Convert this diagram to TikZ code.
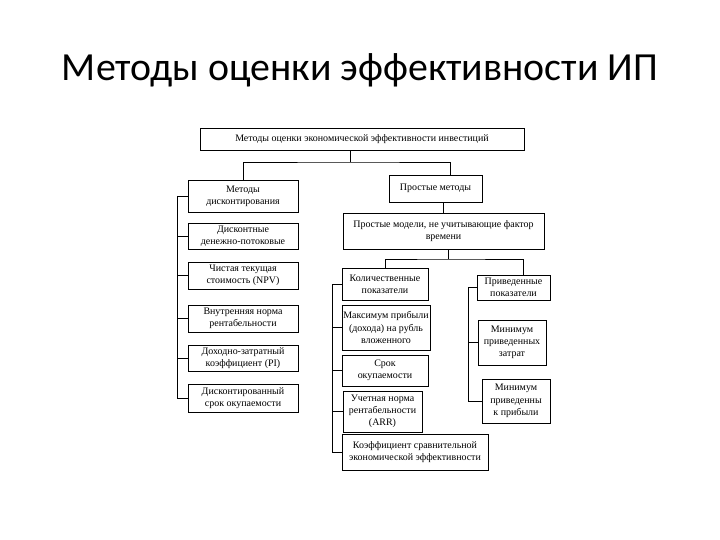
\documentclass[tikz,border=0pt]{standalone}
\usepackage{fontspec}
\setmainfont{Liberation Serif}
\newfontfamily\titlefont{Carlito}
\usepackage{tikz}
\usetikzlibrary{calc, positioning}

\begin{document}
\begin{tikzpicture}[x=1bp, y=-1bp,
    box/.style={draw, line width=0.6bp, align=center, inner sep=1bp,
        font=\fontsize{10}{12.3}\selectfont},
    link/.style={line width=0.6bp}]
    \useasboundingbox[fill=white] (0,0) rectangle (720,540);
    % 1. Заголовок
    \node (title) at (360,70) {\titlefont\fontsize{40}{46}\selectfont Методы оценки эффективности ИП};

    % 2. Верхний уровень
    \node[box, minimum width=324bp, minimum height=22bp] (top) at (362,139)
        {Методы оценки экономической эффективности инвестиций};
    \node[box, minimum width=110bp, minimum height=32bp] (disc) at (243,196)
        {Методы\\дисконтирования};
    \node[box, minimum width=93bp, minimum height=27bp] (prost) at (435.5,188.5)
        {Простые методы};

    % 3. Дисконтные методы
    \node[box, minimum width=110bp, minimum height=26bp] (d2) at (243,236)
        {Дисконтные\\денежно-потоковые};
    \node[box, minimum width=110bp, minimum height=27bp] (d3) at (243,275.5)
        {Чистая текущая\\стоимость (NPV)};
    \node[box, minimum width=110bp, minimum height=27bp] (d4) at (243,318.5)
        {Внутренняя норма\\рентабельности};
    \node[box, minimum width=110bp, minimum height=26bp] (d5) at (243,358)
        {Доходно-затратный\\коэффициент (PI)};
    \node[box, minimum width=110bp, minimum height=28bp] (d6) at (243,398)
        {Дисконтированный\\срок окупаемости};

    % 4. Простые методы
    \node[box, minimum width=201bp, minimum height=36bp] (model) at (443.5,231)
        {Простые модели, не учитывающие фактор\\времени};
    \node[box, minimum width=86bp, minimum height=32bp] (kol) at (385,284)
        {Количественные\\показатели};
    \node[box, minimum width=88bp, minimum height=45bp] (max) at (386,327.5)
        {Максимум прибыли\\(дохода) на рубль\\вложенного};
    \node[box, minimum width=86bp, minimum height=31bp] (srok) at (385,370.5)
        {Срок\\окупаемости};
    \node[box, minimum width=79bp, minimum height=41bp] (arr) at (382.5,411.5)
        {Учетная норма\\рентабельности\\(ARR)};
    \node[box, minimum width=146bp, minimum height=36bp] (koef) at (415,452)
        {Коэффициент сравнительной\\экономической эффективности};
    \node[box, minimum width=73bp, minimum height=25bp] (priv) at (513.5,287.5)
        {Приведенные\\показатели};
    \node[box, minimum width=68bp, minimum height=45bp] (minz) at (512,342.5)
        {Минимум\\приведенных\\затрат};
    \node[box, minimum width=68bp, minimum height=44bp] (minp) at (516,401)
        {Минимум\\приведенны\\к прибыли};

    % 5. Связи
    \coordinate (j1) at (350,162);
    \coordinate (j2) at (448,259);
    \draw[link] (top.south -| j1) -- (j1);
    \draw[link] (disc.north) |- (j1) -| ([xshift=14.5bp]prost.north);
    \draw[link] (prost.south -| model.north) -- (model.north);
    \draw[link] (model.south -| j2) -- (j2);
    \draw[link] (kol.north) |- (j2) -| ([xshift=9.5bp]priv.north);

    % 6. Скобки слева
    \coordinate (lb) at (177,0);
    \coordinate (rb) at (332,0);
    \coordinate (pb) at (468,0);
    \draw[link] (disc.west -| lb) -- (d6.west -| lb);
    \foreach \n in {disc,d2,d3,d4,d5,d6}
        \draw[link] (\n.west -| lb) -- (\n.west);
    \draw[link] (kol.west -| rb) -- (koef.west -| rb);
    \foreach \n in {kol,max,srok,arr,koef}
        \draw[link] (\n.west -| rb) -- (\n.west);
    \draw[link] (priv.west -| pb) -- (minp.west -| pb);
    \foreach \n in {priv,minz,minp}
        \draw[link] (\n.west -| pb) -- (\n.west);
\end{tikzpicture}
\end{document}
